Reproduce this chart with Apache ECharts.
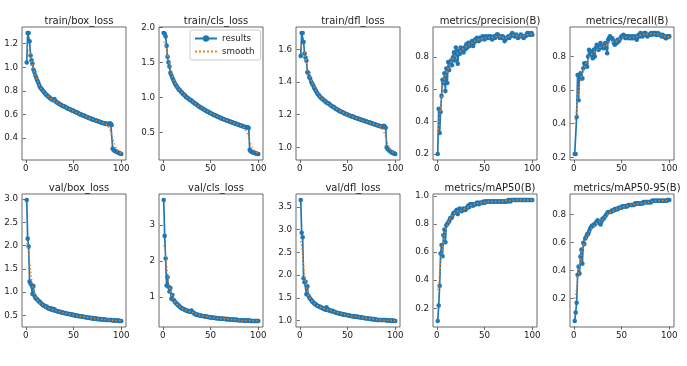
<!DOCTYPE html>
<html><head><meta charset="utf-8">
<script src="https://cdn.jsdelivr.net/npm/echarts@6/dist/echarts.min.js"></script>
<style>html,body{margin:0;padding:0;background:#fff}#c{width:687px;height:366px}</style>
</head><body><div id="c"></div>
<script>
const titles = ["train/box_loss","train/cls_loss","train/dfl_loss","metrics/precision(B)","metrics/recall(B)",
"val/box_loss","val/cls_loss","val/dfl_loss","metrics/mAP50(B)","metrics/mAP50-95(B)"];

const xTicks = [0, 50, 100];
const yTicks = [
 [0.4,0.6,0.8,1.0,1.2],
 [0.5,1.0,1.5,2.0],
 [1.0,1.2,1.4,1.6],
 [0.2,0.4,0.6,0.8],
 [0.2,0.4,0.6,0.8],
 [0.5,1.0,1.5,2.0,2.5,3.0],
 [1,2,3],
 [1.0,1.5,2.0,2.5,3.0,3.5],
 [0.2,0.4,0.6,0.8,1.0],
 [0.2,0.4,0.6,0.8]
];
const yDecimals = [1,1,1,1,1,1,0,1,1,1];

const trainBox = [1.04,1.29,1.29,1.22,1.10,1.06,1.03,0.98,0.96,0.93,
0.91,0.89,0.87,0.85,0.83,0.82,0.81,0.80,0.79,0.78,
0.77,0.765,0.755,0.75,0.74,0.735,0.73,0.725,0.72,0.73,
0.715,0.705,0.70,0.695,0.69,0.685,0.68,0.675,0.67,0.67,
0.665,0.66,0.655,0.65,0.648,0.645,0.64,0.635,0.632,0.63,
0.625,0.62,0.618,0.615,0.61,0.605,0.60,0.60,0.595,0.59,
0.59,0.585,0.58,0.578,0.575,0.57,0.568,0.565,0.56,0.56,
0.555,0.552,0.55,0.548,0.545,0.54,0.54,0.535,0.532,0.53,
0.528,0.525,0.522,0.52,0.52,0.518,0.515,0.525,0.52,0.51,
0.31,0.30,0.29,0.288,0.285,0.28,0.275,0.272,0.268,0.265];
const trainBoxS = [1.17,1.16,1.15,1.13,1.10,1.06,1.02,0.99,0.96,0.93,
0.91,0.89,0.87,0.85,0.835,0.82,0.81,0.80,0.79,0.78,
0.772,0.764,0.756,0.749,0.743,0.737,0.731,0.726,0.721,0.716,
0.711,0.706,0.701,0.696,0.691,0.686,0.681,0.677,0.673,0.669,
0.665,0.661,0.657,0.653,0.649,0.645,0.641,0.637,0.633,0.629,
0.625,0.621,0.617,0.614,0.61,0.606,0.602,0.599,0.595,0.592,
0.589,0.585,0.582,0.579,0.575,0.572,0.568,0.565,0.562,0.559,
0.556,0.553,0.55,0.547,0.545,0.542,0.539,0.536,0.534,0.531,
0.529,0.526,0.523,0.52,0.515,0.505,0.49,0.47,0.45,0.425,
0.398,0.372,0.35,0.33,0.312,0.298,0.287,0.279,0.273,0.27];

const trainCls = [1.92,1.91,1.87,1.74,1.58,1.50,1.44,1.35,1.32,1.28,
1.25,1.22,1.19,1.17,1.15,1.13,1.11,1.10,1.08,1.07,
1.05,1.04,1.03,1.01,1.00,0.99,0.98,0.97,0.96,0.955,
0.94,0.93,0.92,0.91,0.90,0.89,0.88,0.87,0.86,0.855,
0.845,0.835,0.83,0.82,0.81,0.80,0.795,0.79,0.78,0.775,
0.765,0.76,0.75,0.745,0.74,0.735,0.725,0.72,0.715,0.71,
0.70,0.695,0.69,0.685,0.68,0.675,0.67,0.665,0.66,0.655,
0.65,0.645,0.64,0.635,0.63,0.625,0.62,0.615,0.61,0.605,
0.60,0.595,0.59,0.585,0.58,0.575,0.57,0.575,0.57,0.56,
0.25,0.23,0.22,0.215,0.21,0.205,0.20,0.195,0.19,0.19];
const trainClsS = [1.80,1.78,1.74,1.68,1.61,1.54,1.47,1.41,1.36,1.31,
1.27,1.24,1.21,1.18,1.155,1.135,1.115,1.10,1.08,1.065,
1.05,1.04,1.025,1.013,1.002,0.99,0.98,0.97,0.96,0.95,
0.94,0.93,0.92,0.91,0.90,0.89,0.88,0.871,0.862,0.853,
0.845,0.837,0.829,0.821,0.813,0.805,0.797,0.789,0.781,0.774,
0.767,0.76,0.753,0.746,0.739,0.732,0.726,0.72,0.714,0.708,
0.702,0.696,0.69,0.685,0.68,0.675,0.67,0.665,0.66,0.655,
0.65,0.645,0.64,0.635,0.63,0.625,0.62,0.615,0.61,0.605,
0.60,0.595,0.588,0.578,0.568,0.552,0.53,0.50,0.465,0.425,
0.38,0.34,0.305,0.275,0.252,0.235,0.222,0.212,0.205,0.20];

const trainDfl = [1.56,1.70,1.70,1.645,1.575,1.55,1.53,1.46,1.455,1.43,
1.42,1.40,1.39,1.38,1.365,1.355,1.345,1.335,1.325,1.32,
1.31,1.305,1.30,1.295,1.29,1.285,1.28,1.275,1.27,1.27,
1.265,1.26,1.255,1.25,1.248,1.245,1.24,1.235,1.232,1.23,
1.225,1.222,1.22,1.217,1.215,1.21,1.208,1.205,1.203,1.20,
1.198,1.195,1.192,1.19,1.19,1.187,1.185,1.182,1.18,1.178,
1.175,1.175,1.172,1.17,1.168,1.166,1.164,1.162,1.16,1.158,
1.156,1.154,1.152,1.15,1.148,1.146,1.144,1.142,1.14,1.138,
1.136,1.134,1.132,1.13,1.13,1.128,1.126,1.132,1.128,1.12,
1.00,0.99,0.985,0.98,0.975,0.97,0.968,0.965,0.962,0.96];
const trainDflS = [1.62,1.625,1.62,1.605,1.58,1.55,1.52,1.49,1.465,1.445,
1.425,1.41,1.395,1.382,1.37,1.358,1.347,1.337,1.328,1.32,
1.312,1.305,1.299,1.293,1.288,1.283,1.278,1.274,1.27,1.266,
1.262,1.258,1.254,1.25,1.247,1.244,1.24,1.237,1.234,1.23,
1.227,1.224,1.221,1.218,1.215,1.212,1.209,1.206,1.203,1.201,
1.198,1.195,1.193,1.19,1.188,1.186,1.184,1.182,1.18,1.178,
1.176,1.174,1.172,1.17,1.168,1.166,1.164,1.162,1.16,1.158,
1.156,1.154,1.152,1.15,1.148,1.146,1.144,1.142,1.14,1.138,
1.136,1.134,1.132,1.129,1.125,1.118,1.108,1.095,1.08,1.063,
1.045,1.028,1.012,0.998,0.988,0.979,0.973,0.968,0.965,0.963];

const precision = [0.20,0.48,0.33,0.46,0.56,0.66,0.64,0.70,0.59,0.73,
0.64,0.77,0.72,0.77,0.78,0.75,0.80,0.83,0.78,0.86,
0.82,0.76,0.84,0.82,0.86,0.84,0.85,0.83,0.86,0.85,
0.88,0.86,0.89,0.87,0.89,0.88,0.90,0.87,0.89,0.91,
0.90,0.92,0.91,0.90,0.92,0.91,0.92,0.93,0.92,0.91,
0.93,0.92,0.92,0.93,0.92,0.93,0.92,0.91,0.92,0.93,
0.92,0.93,0.94,0.94,0.93,0.92,0.93,0.92,0.93,0.92,
0.90,0.91,0.92,0.92,0.93,0.92,0.93,0.94,0.95,0.94,
0.93,0.93,0.94,0.93,0.92,0.93,0.93,0.94,0.93,0.93,
0.92,0.93,0.93,0.94,0.95,0.95,0.94,0.94,0.95,0.94];
const precisionS = [0.33,0.37,0.43,0.49,0.55,0.60,0.64,0.665,0.685,0.70,
0.715,0.73,0.745,0.76,0.77,0.78,0.79,0.80,0.81,0.815,
0.82,0.825,0.83,0.835,0.84,0.845,0.85,0.855,0.858,0.862,
0.866,0.87,0.874,0.878,0.882,0.886,0.89,0.893,0.896,0.899,
0.902,0.905,0.907,0.909,0.911,0.913,0.915,0.916,0.917,0.918,
0.919,0.92,0.921,0.922,0.922,0.922,0.922,0.922,0.923,0.925,
0.927,0.929,0.93,0.931,0.93,0.928,0.926,0.924,0.922,0.92,
0.919,0.919,0.92,0.922,0.925,0.928,0.931,0.934,0.936,0.937,
0.937,0.936,0.935,0.934,0.933,0.932,0.932,0.932,0.932,0.932,
0.933,0.934,0.936,0.938,0.94,0.942,0.943,0.943,0.943,0.943];

const recall = [0.22,0.22,0.44,0.69,0.54,0.68,0.70,0.67,0.67,0.73,
0.76,0.75,0.76,0.74,0.80,0.84,0.83,0.81,0.83,0.79,
0.84,0.80,0.85,0.87,0.86,0.84,0.85,0.88,0.86,0.86,
0.85,0.87,0.88,0.85,0.82,0.90,0.91,0.92,0.91,0.91,
0.90,0.88,0.87,0.89,0.88,0.90,0.89,0.90,0.91,0.92,
0.92,0.93,0.92,0.91,0.92,0.92,0.91,0.92,0.91,0.91,
0.92,0.91,0.91,0.92,0.91,0.90,0.92,0.93,0.92,0.94,
0.93,0.92,0.93,0.94,0.94,0.93,0.92,0.93,0.93,0.93,
0.94,0.93,0.94,0.94,0.94,0.93,0.93,0.94,0.93,0.93,
0.93,0.92,0.93,0.92,0.92,0.91,0.91,0.92,0.92,0.92];
const recallS = [0.40,0.44,0.50,0.56,0.60,0.635,0.66,0.68,0.70,0.715,
0.73,0.745,0.76,0.77,0.785,0.795,0.805,0.81,0.815,0.82,
0.825,0.83,0.835,0.84,0.845,0.85,0.855,0.858,0.86,0.86,
0.86,0.862,0.865,0.868,0.872,0.877,0.882,0.886,0.889,0.89,
0.89,0.89,0.89,0.891,0.893,0.896,0.899,0.903,0.907,0.91,
0.913,0.915,0.916,0.916,0.916,0.915,0.914,0.913,0.913,0.913,
0.913,0.913,0.913,0.914,0.916,0.918,0.921,0.924,0.926,0.928,
0.93,0.931,0.932,0.932,0.932,0.932,0.932,0.933,0.933,0.934,
0.935,0.936,0.936,0.936,0.936,0.935,0.934,0.933,0.931,0.929,
0.927,0.925,0.923,0.921,0.919,0.918,0.918,0.918,0.918,0.918];

const valBox = [2.98,2.15,1.98,1.23,1.18,1.16,0.96,1.13,0.93,0.88,
0.86,0.84,0.82,0.80,0.78,0.76,0.74,0.72,0.71,0.70,
0.68,0.69,0.66,0.65,0.64,0.65,0.62,0.64,0.61,0.63,
0.60,0.60,0.59,0.58,0.58,0.57,0.57,0.56,0.56,0.55,
0.55,0.54,0.54,0.53,0.53,0.53,0.52,0.52,0.51,0.51,
0.50,0.50,0.49,0.49,0.49,0.48,0.48,0.48,0.47,0.47,
0.47,0.46,0.46,0.46,0.45,0.45,0.45,0.44,0.44,0.44,
0.43,0.43,0.43,0.43,0.42,0.42,0.42,0.42,0.41,0.41,
0.41,0.41,0.41,0.40,0.40,0.40,0.40,0.40,0.40,0.40,
0.39,0.39,0.39,0.39,0.39,0.39,0.39,0.38,0.38,0.38];
const valBoxS = [2.05,1.98,1.84,1.66,1.47,1.30,1.16,1.06,0.98,0.92,
0.87,0.835,0.805,0.78,0.76,0.745,0.73,0.715,0.70,0.69,
0.68,0.67,0.66,0.652,0.645,0.638,0.63,0.624,0.618,0.612,
0.606,0.60,0.594,0.588,0.582,0.576,0.57,0.565,0.56,0.555,
0.55,0.545,0.54,0.536,0.532,0.528,0.524,0.52,0.515,0.51,
0.505,0.50,0.496,0.492,0.488,0.484,0.48,0.477,0.474,0.471,
0.468,0.465,0.462,0.459,0.456,0.453,0.45,0.447,0.444,0.441,
0.438,0.435,0.432,0.429,0.426,0.423,0.42,0.418,0.416,0.414,
0.412,0.41,0.408,0.406,0.404,0.402,0.40,0.399,0.398,0.397,
0.396,0.394,0.392,0.39,0.389,0.388,0.387,0.386,0.385,0.385];

const valCls = [3.70,2.70,2.07,1.32,1.55,1.28,1.15,1.25,0.95,1.05,
0.92,0.90,0.85,0.82,0.80,0.77,0.75,0.72,0.70,0.68,
0.67,0.66,0.64,0.63,0.62,0.61,0.60,0.59,0.60,0.62,
0.58,0.56,0.54,0.52,0.51,0.50,0.50,0.49,0.48,0.48,
0.47,0.47,0.46,0.46,0.45,0.45,0.44,0.44,0.43,0.43,
0.43,0.42,0.42,0.42,0.41,0.41,0.41,0.40,0.40,0.40,
0.40,0.39,0.39,0.39,0.39,0.38,0.38,0.38,0.38,0.37,
0.37,0.37,0.37,0.36,0.36,0.36,0.36,0.36,0.35,0.35,
0.35,0.35,0.35,0.35,0.34,0.34,0.34,0.34,0.34,0.34,
0.34,0.33,0.33,0.33,0.33,0.33,0.33,0.33,0.33,0.33];
const valClsS = [2.45,2.35,2.15,1.90,1.65,1.44,1.28,1.16,1.07,1.00,
0.94,0.89,0.85,0.815,0.785,0.76,0.74,0.72,0.70,0.685,
0.67,0.655,0.64,0.63,0.62,0.61,0.60,0.595,0.59,0.58,
0.57,0.56,0.55,0.535,0.525,0.515,0.505,0.495,0.488,0.482,
0.476,0.47,0.465,0.46,0.455,0.45,0.445,0.44,0.436,0.432,
0.428,0.424,0.42,0.417,0.414,0.411,0.408,0.405,0.402,0.40,
0.398,0.395,0.392,0.39,0.388,0.385,0.382,0.38,0.378,0.375,
0.372,0.37,0.368,0.365,0.363,0.361,0.359,0.357,0.355,0.353,
0.351,0.349,0.347,0.346,0.345,0.343,0.342,0.341,0.34,0.339,
0.338,0.337,0.336,0.335,0.334,0.333,0.332,0.331,0.331,0.33];

const valDfl = [3.65,2.93,2.83,1.93,1.84,1.85,1.58,1.75,1.55,1.50,
1.48,1.45,1.42,1.40,1.38,1.36,1.35,1.33,1.32,1.31,
1.30,1.29,1.28,1.27,1.26,1.25,1.24,1.29,1.23,1.24,
1.22,1.21,1.22,1.20,1.21,1.19,1.18,1.17,1.17,1.16,
1.16,1.15,1.15,1.14,1.14,1.13,1.13,1.12,1.12,1.12,
1.11,1.11,1.10,1.10,1.10,1.09,1.09,1.09,1.08,1.08,
1.08,1.07,1.07,1.07,1.06,1.06,1.06,1.05,1.05,1.05,
1.05,1.04,1.04,1.04,1.03,1.03,1.03,1.03,1.02,1.02,
1.01,1.01,1.01,1.01,1.01,1.01,1.01,1.01,1.01,1.01,
1.00,1.00,1.00,1.00,1.00,1.00,1.00,0.995,0.995,0.99];
const valDflS = [2.75,2.65,2.45,2.22,2.01,1.84,1.72,1.63,1.56,1.51,
1.47,1.44,1.415,1.395,1.375,1.36,1.345,1.33,1.32,1.31,
1.30,1.29,1.28,1.272,1.265,1.258,1.252,1.246,1.24,1.234,
1.228,1.222,1.216,1.21,1.204,1.198,1.19,1.183,1.176,1.17,
1.164,1.158,1.152,1.147,1.142,1.137,1.132,1.127,1.122,1.118,
1.114,1.11,1.106,1.102,1.098,1.094,1.09,1.087,1.084,1.081,
1.078,1.075,1.072,1.069,1.066,1.063,1.06,1.057,1.054,1.051,
1.048,1.045,1.042,1.039,1.036,1.033,1.03,1.027,1.024,1.021,
1.018,1.015,1.013,1.011,1.01,1.009,1.008,1.007,1.006,1.005,
1.004,1.003,1.002,1.001,1.0,0.999,0.998,0.997,0.996,0.995];

const map50 = [0.11,0.22,0.36,0.59,0.65,0.57,0.72,0.76,0.67,0.79,
0.80,0.81,0.82,0.84,0.84,0.85,0.87,0.88,0.88,0.89,
0.90,0.87,0.90,0.91,0.90,0.89,0.90,0.91,0.90,0.90,
0.91,0.92,0.93,0.92,0.94,0.94,0.94,0.93,0.94,0.94,
0.94,0.95,0.95,0.94,0.95,0.95,0.95,0.95,0.96,0.95,
0.96,0.96,0.96,0.96,0.96,0.96,0.96,0.96,0.96,0.96,
0.96,0.96,0.96,0.96,0.96,0.96,0.96,0.96,0.96,0.96,
0.96,0.96,0.96,0.96,0.97,0.97,0.96,0.97,0.97,0.97,
0.97,0.97,0.97,0.97,0.97,0.97,0.97,0.97,0.97,0.97,
0.97,0.97,0.97,0.97,0.97,0.97,0.97,0.97,0.97,0.97];
const map50S = [0.33,0.37,0.44,0.51,0.58,0.63,0.68,0.72,0.75,0.77,
0.79,0.81,0.825,0.835,0.845,0.855,0.865,0.872,0.879,0.884,
0.888,0.891,0.894,0.896,0.898,0.90,0.902,0.905,0.908,0.911,
0.914,0.918,0.922,0.926,0.93,0.933,0.936,0.938,0.94,0.942,
0.944,0.945,0.946,0.947,0.948,0.949,0.951,0.952,0.953,0.954,
0.955,0.956,0.957,0.958,0.959,0.96,0.96,0.96,0.96,0.96,
0.96,0.96,0.96,0.96,0.96,0.96,0.96,0.961,0.962,0.963,
0.963,0.964,0.965,0.966,0.966,0.967,0.967,0.968,0.968,0.969,
0.969,0.969,0.97,0.97,0.97,0.97,0.97,0.97,0.97,0.97,
0.97,0.97,0.97,0.97,0.97,0.97,0.97,0.97,0.97,0.97];

const map5095 = [0.04,0.10,0.17,0.37,0.43,0.38,0.50,0.55,0.45,0.60,
0.59,0.63,0.64,0.66,0.66,0.68,0.70,0.71,0.72,0.72,
0.73,0.73,0.74,0.75,0.76,0.75,0.74,0.73,0.75,0.77,
0.77,0.78,0.79,0.80,0.81,0.82,0.82,0.82,0.82,0.83,
0.83,0.83,0.84,0.84,0.84,0.84,0.85,0.85,0.85,0.85,
0.86,0.86,0.86,0.86,0.86,0.86,0.87,0.87,0.87,0.87,
0.87,0.87,0.87,0.88,0.88,0.88,0.88,0.88,0.88,0.88,
0.88,0.88,0.89,0.89,0.89,0.89,0.89,0.89,0.89,0.89,
0.89,0.90,0.90,0.90,0.90,0.90,0.90,0.90,0.90,0.90,
0.90,0.90,0.90,0.90,0.90,0.90,0.90,0.905,0.905,0.905];
const map5095S = [0.20,0.23,0.28,0.33,0.39,0.44,0.48,0.52,0.55,0.575,
0.595,0.615,0.63,0.645,0.66,0.672,0.684,0.695,0.705,0.713,
0.72,0.727,0.733,0.738,0.742,0.745,0.748,0.752,0.757,0.763,
0.77,0.777,0.784,0.791,0.798,0.804,0.81,0.815,0.82,0.824,
0.828,0.831,0.834,0.837,0.84,0.843,0.845,0.848,0.85,0.852,
0.855,0.857,0.859,0.861,0.863,0.865,0.866,0.868,0.869,0.87,
0.871,0.873,0.874,0.875,0.876,0.877,0.878,0.879,0.88,0.881,
0.882,0.883,0.884,0.885,0.886,0.887,0.888,0.889,0.89,0.891,
0.892,0.893,0.894,0.895,0.896,0.897,0.898,0.899,0.9,0.9,
0.9,0.9,0.901,0.901,0.901,0.902,0.902,0.902,0.903,0.903];

const results = [trainBox,trainCls,trainDfl,precision,recall,valBox,valCls,valDfl,map50,map5095];
const smooth = [trainBoxS,trainClsS,trainDflS,precisionS,recallS,valBoxS,valClsS,valDflS,map50S,map5095S];

// layout
const colLeft = [22,159,296,433,570];
const rowTop = [27,194];
const GW = 104, GH = 133;
const FONT = 'DejaVu Sans';
const TXT = '#222';
const EDGE = '#444';

const grid = [], xAxis = [], yAxis = [], series = [], title = [];
for (let i = 0; i < 10; i++) {
  const r = Math.floor(i / 5), c = i % 5;
  const left = colLeft[c], top = rowTop[r];
  grid.push({left: left, top: top, width: GW, height: GH, show: true, borderColor: EDGE, borderWidth: 0.8, backgroundColor: 'transparent'});
  title.push({text: titles[i], left: left + GW / 2, top: top - 16, textAlign: 'center',
    textStyle: {fontFamily: FONT, fontSize: 10, fontWeight: 'normal', color: TXT}});
  const all = results[i].concat(smooth[i]);
  const lo = Math.min.apply(null, all), hi = Math.max.apply(null, all);
  const pad = (hi - lo) * 0.05;
  const dec = yDecimals[i];
  xAxis.push({type: 'value', gridIndex: i, min: -3.95, max: 104.95,
    splitLine: {show: false}, axisLine: {show: false},
    axisTick: {show: true, inside: false, length: 3, lineStyle: {color: EDGE, width: 0.8}, customValues: xTicks},
    axisLabel: {customValues: xTicks, fontFamily: FONT, fontSize: 8.7, color: TXT, margin: 4, formatter: v => String(v)}});
  yAxis.push({type: 'value', gridIndex: i, min: lo - pad, max: hi + pad,
    splitLine: {show: false}, axisLine: {show: false},
    axisTick: {show: true, inside: false, length: 3, lineStyle: {color: EDGE, width: 0.8}, customValues: yTicks[i]},
    axisLabel: {customValues: yTicks[i], fontFamily: FONT, fontSize: 8.7, color: TXT, margin: 4, formatter: v => Number(v).toFixed(dec)}});
  series.push({type: 'line', name: 'results', xAxisIndex: i, yAxisIndex: i,
    data: results[i].map((v, k) => [k + 1, v]),
    symbol: 'circle', symbolSize: 4.6, showSymbol: true,
    lineStyle: {color: '#1f77b4', width: 1.7}, itemStyle: {color: '#1f77b4'}, z: 2});
  series.push({type: 'line', name: 'smooth', xAxisIndex: i, yAxisIndex: i,
    data: smooth[i].map((v, k) => [k + 1, v]),
    symbol: 'none', lineStyle: {color: '#ff7f0e', width: 1.4, type: [1.4, 2.2]}, itemStyle: {color: '#ff7f0e'}, z: 3});
}

const dotIcon = 'path://M0,3h2v2h-2zM4,3h2v2h-2zM8,3h2v2h-2zM12,3h2v2h-2zM16,3h2v2h-2zM20,3h2v2h-2zM0,0h0.01v8h-0.01z';

const chart = echarts.init(document.getElementById('c'), null, {renderer: 'canvas'});
chart.setOption({
  animation: false,
  backgroundColor: '#fff',
  title: title,
  grid: grid, xAxis: xAxis, yAxis: yAxis, series: series,
  legend: {data: [{name: 'results'}, {name: 'smooth', icon: dotIcon, itemStyle: {color: '#ff7f0e'}}],
    orient: 'vertical', left: 190, top: 30,
    itemWidth: 22, itemHeight: 8, itemGap: 4, padding: [4, 6, 4, 4],
    borderColor: '#ccc', borderWidth: 1, borderRadius: 2, backgroundColor: 'rgba(255,255,255,0.8)',
    textStyle: {fontFamily: FONT, fontSize: 8.7, color: TXT}}
});
</script></body></html>
